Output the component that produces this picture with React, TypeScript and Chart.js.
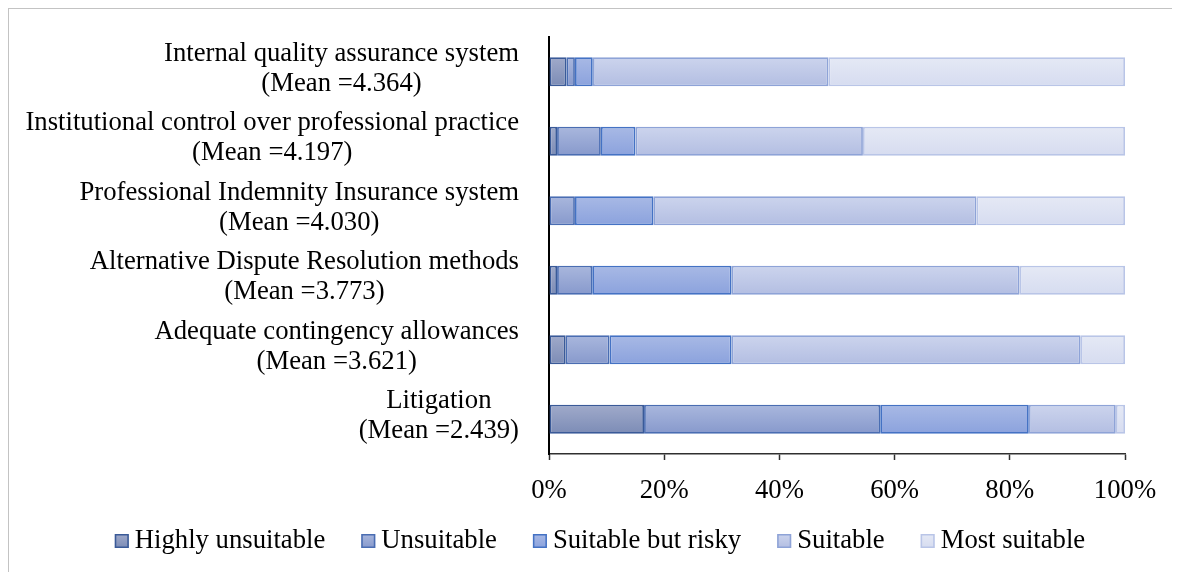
import { useEffect, useRef } from "react";
import { Chart, registerables } from "chart.js";

Chart.register(...registerables);

// Category labels (two lines each) and the share of responses (%) per rating
const categories: string[][] = [
  ["Internal quality assurance system", "(Mean =4.364)"],
  ["Institutional control over professional practice", "(Mean =4.197)"],
  ["Professional Indemnity Insurance system", "(Mean =4.030)"],
  ["Alternative Dispute Resolution methods", "(Mean =3.773)"],
  ["Adequate contingency allowances", "(Mean =3.621)"],
  ["Litigation", "(Mean =2.439)"],
];

const seriesNames = ["Highly unsuitable", "Unsuitable", "Suitable but risky", "Suitable", "Most suitable"];

const highlyUnsuitable = [3.0, 1.4, 0, 1.4, 2.9, 16.5];
const unsuitable = [1.5, 7.6, 4.5, 6.1, 7.6, 41.0];
const suitableButRisky = [3.1, 6.0, 13.6, 24.2, 21.2, 25.8];
const suitable = [40.9, 39.5, 56.1, 50.0, 60.6, 15.1];
const mostSuitable = [51.5, 45.5, 25.8, 18.3, 7.7, 1.6];

const xTicks = [0, 20, 40, 60, 80, 100];

const seriesValues = [highlyUnsuitable, unsuitable, suitableButRisky, suitable, mostSuitable];

// Per-series gradient fills and outlines
const fillTop = ["#a0aaca", "#a9b7dd", "#a8b9e5", "#ccd4ed", "#e5e9f5"];
const fillBottom = ["#7c8cb6", "#8799cc", "#8ba2dd", "#b3bee2", "#d6dcf0"];
const borderColors = ["#3a5a98", "#4a6db2", "#4472c4", "#8ea3d7", "#b9c5e7"];

const FONT = '"Liberation Serif", "Times New Roman", serif';
const FONT_SIZE = 26.7;
const LINE_H = 30;
const LABEL_GAP = 30;
const LABEL_SHIFT = -3;
const BAR_FRACTION = 0.417;

const makeFill = (i: number) => (ctx: any) => {
  const chart = ctx.chart;
  const yScale = chart.scales?.y;
  if (!chart.chartArea || !yScale || ctx.dataIndex === undefined) return fillTop[i];
  const y = yScale.getPixelForValue(ctx.dataIndex);
  const half = ((yScale.height / categories.length) * BAR_FRACTION) / 2;
  const g = chart.ctx.createLinearGradient(0, y - half, 0, y + half);
  g.addColorStop(0, fillTop[i]);
  g.addColorStop(1, fillBottom[i]);
  return g;
};

// Two-line category labels: block right-aligned to the axis, lines centred
const categoryLabels = {
  id: "categoryLabels",
  afterDraw(chart: any) {
    const { ctx, chartArea, scales } = chart;
    ctx.save();
    ctx.font = `${FONT_SIZE}px ${FONT}`;
    ctx.fillStyle = "#000";
    ctx.textAlign = "center";
    ctx.textBaseline = "middle";
    categories.forEach((lines, i) => {
      const yc = scales.y.getPixelForValue(i) + LABEL_SHIFT;
      const w = Math.max(...lines.map((l) => ctx.measureText(l).width));
      const cx = chartArea.left - LABEL_GAP - w / 2;
      lines.forEach((l, j) => {
        ctx.fillText(l, cx, yc + (j - (lines.length - 1) / 2) * LINE_H);
      });
    });
    ctx.restore();
  },
};

// Legend row under the axis
const legendRow = {
  id: "legendRow",
  afterDraw(chart: any) {
    const { ctx } = chart;
    const box = 14;
    const textGap = 6;
    const itemGap = 36;
    const centerX = 591;
    const midY = 532;
    ctx.save();
    ctx.font = `${FONT_SIZE}px ${FONT}`;
    ctx.textBaseline = "middle";
    ctx.textAlign = "left";
    const widths = seriesNames.map((n) => ctx.measureText(n).width);
    const total = widths.reduce((s, w) => s + box + textGap + w, 0) + itemGap * (seriesNames.length - 1);
    let x = centerX - total / 2;
    seriesNames.forEach((name, i) => {
      const top = midY - box / 2;
      const g = ctx.createLinearGradient(0, top, 0, top + box);
      g.addColorStop(0, fillTop[i]);
      g.addColorStop(1, fillBottom[i]);
      ctx.fillStyle = g;
      ctx.fillRect(x, top, box, box);
      ctx.strokeStyle = borderColors[i];
      ctx.lineWidth = 1.5;
      ctx.strokeRect(x + 0.75, top + 0.75, box - 1.5, box - 1.5);
      ctx.fillStyle = "#000";
      ctx.fillText(name, x + box + textGap, midY);
      x += box + textGap + widths[i] + itemGap;
    });
    ctx.restore();
  },
};

export default function App() {
  const canvasRef = useRef<HTMLCanvasElement | null>(null);

  useEffect(() => {
    if (!canvasRef.current) return;
    const chart = new Chart(canvasRef.current, {
      type: "bar",
      data: {
        labels: categories.map((l) => l.join(" ")),
        datasets: seriesNames.map((name, i) => ({
          label: name,
          data: seriesValues[i],
          backgroundColor: makeFill(i),
          borderColor: borderColors[i],
          borderWidth: 1.8,
          borderSkipped: false,
          categoryPercentage: 1,
          barPercentage: BAR_FRACTION,
        })),
      },
      options: {
        indexAxis: "y",
        responsive: false,
        animation: false,
        layout: { padding: { top: 28, right: 55, left: 0, bottom: 0 } },
        plugins: {
          legend: { display: false },
          tooltip: { enabled: false },
        },
        scales: {
          x: {
            stacked: true,
            min: 0,
            max: 100,
            afterBuildTicks: (scale: any) => {
              scale.ticks = xTicks.map((v) => ({ value: v }));
            },
            afterFit: (scale: any) => {
              scale.height = 118;
            },
            ticks: {
              font: { family: FONT, size: FONT_SIZE },
              color: "#000",
              padding: 15,
              maxRotation: 0,
              callback: (v: any) => `${v}%`,
            },
            grid: {
              display: true,
              drawOnChartArea: false,
              drawTicks: true,
              tickLength: 6,
              tickColor: "#303030",
              tickWidth: 1.5,
            },
            border: { display: true, color: "#303030", width: 1.5 },
          },
          y: {
            stacked: true,
            afterFit: (scale: any) => {
              scale.width = 540;
            },
            ticks: { display: false },
            grid: { display: false },
            border: { display: true, color: "#000", width: 2 },
          },
        },
      },
      plugins: [categoryLabels, legendRow],
    });
    return () => chart.destroy();
  }, []);

  return (
    <div
      style={{
        width: 1172,
        height: 564,
        boxSizing: "border-box",
        borderTop: "1px solid #c3c3c3",
        borderLeft: "1px solid #c3c3c3",
        background: "#fff",
      }}
    >
      <canvas ref={canvasRef} width={1171} height={563} style={{ display: "block", width: 1171, height: 563 }} />
    </div>
  );
}
